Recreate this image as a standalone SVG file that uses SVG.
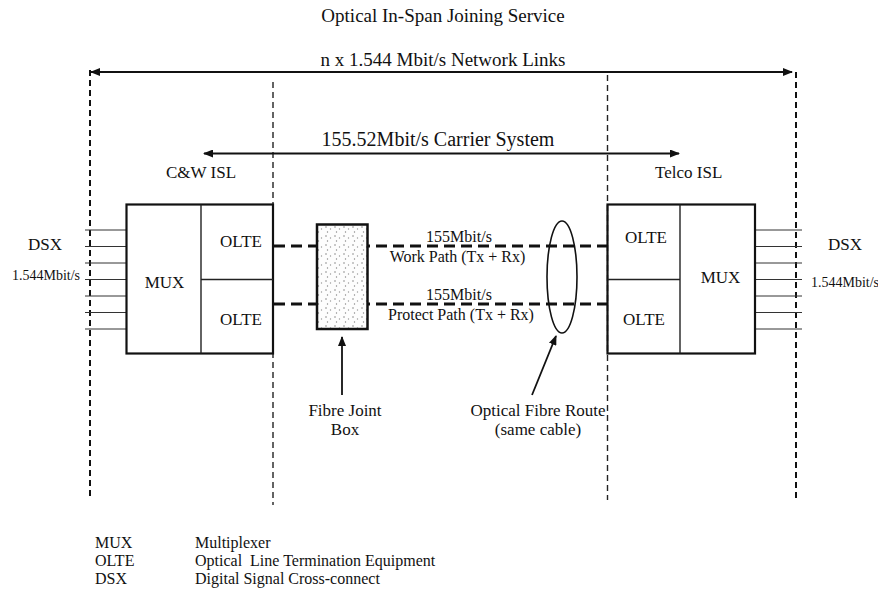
<svg xmlns="http://www.w3.org/2000/svg" width="878" height="594" viewBox="0 0 878 594" font-family="'Liberation Serif','Times New Roman',serif">
<defs>
<style>
text{font-family:"Liberation Serif","Times New Roman",serif;fill:#111}
.t19{font-size:19px}
.t17{font-size:17px}
.t16{font-size:16px}
.t14{font-size:14px}
.box{fill:none;stroke:#111;stroke-width:2.2}
.div{stroke:#222;stroke-width:1.4;fill:none}
.vd1{stroke:#111;stroke-width:2;stroke-dasharray:6 4;fill:none}
.vd2{stroke:#222;stroke-width:1.4;stroke-dasharray:6 4;fill:none}
.path{stroke:#111;stroke-width:3;stroke-dasharray:11 6;fill:none}
.in{stroke:#333;stroke-width:1;fill:none}
.arr{stroke:#111;stroke-width:1.8;fill:none}
</style>
<marker id="ah" viewBox="0 0 10 8" refX="9" refY="4" markerWidth="10" markerHeight="8" markerUnits="userSpaceOnUse" orient="auto-start-reverse">
<path d="M0,0 L10,4 L0,8 z" fill="#111"/>
</marker>
<pattern id="stip" width="9" height="9" patternUnits="userSpaceOnUse">
<rect width="9" height="9" fill="#fdfdfd"/>
<circle cx="2" cy="2" r="0.8" fill="#888"/>
<circle cx="6.5" cy="4" r="0.7" fill="#999"/>
<circle cx="3.5" cy="7" r="0.7" fill="#888"/>
</pattern>
</defs>
<rect width="878" height="594" fill="#fff"/>

<text id="title" class="t19" x="443" y="22" text-anchor="middle">Optical In-Span Joining Service</text>

<g id="boundaries">
<line class="vd1" x1="90" y1="70" x2="90" y2="498"/>
<line class="vd1" x1="796" y1="72" x2="796" y2="498"/>
<line class="vd2" x1="273" y1="82" x2="273" y2="505"/>
<line class="vd2" x1="607.5" y1="75" x2="607.5" y2="500"/>
</g>

<g id="connectors">
<line class="arr" x1="91" y1="72" x2="792" y2="72" marker-start="url(#ah)" marker-end="url(#ah)"/>
<line class="arr" x1="204" y1="153.5" x2="679" y2="153.5" stroke-width="1.5" marker-start="url(#ah)" marker-end="url(#ah)"/>
<line class="path" x1="274" y1="246" x2="607" y2="246"/>
<line class="path" x1="274" y1="304" x2="607" y2="304"/>
<line class="arr" x1="342" y1="395" x2="342" y2="337" marker-end="url(#ah)"/>
<line class="arr" x1="532" y1="395" x2="556" y2="336" marker-end="url(#ah)"/>
<g id="dsx-left-lines">
<line class="in" x1="85" y1="230" x2="126" y2="230"/>
<line class="in" x1="85" y1="246.5" x2="126" y2="246.5"/>
<line class="in" x1="85" y1="263" x2="126" y2="263"/>
<line class="in" x1="85" y1="279.5" x2="126" y2="279.5"/>
<line class="in" x1="85" y1="296" x2="126" y2="296"/>
<line class="in" x1="85" y1="312.5" x2="126" y2="312.5"/>
<line class="in" x1="85" y1="329" x2="126" y2="329"/>
</g>
<g id="dsx-right-lines">
<line class="in" x1="755" y1="230" x2="802" y2="230"/>
<line class="in" x1="755" y1="246.5" x2="802" y2="246.5"/>
<line class="in" x1="755" y1="263" x2="802" y2="263"/>
<line class="in" x1="755" y1="279.5" x2="802" y2="279.5"/>
<line class="in" x1="755" y1="296" x2="802" y2="296"/>
<line class="in" x1="755" y1="312.5" x2="802" y2="312.5"/>
<line class="in" x1="755" y1="329" x2="802" y2="329"/>
</g>
</g>

<text id="lbl-links" class="t19" x="443" y="66" text-anchor="middle">n x 1.544 Mbit/s Network Links</text>
<text id="lbl-carrier" x="438" y="146" text-anchor="middle" font-size="20">155.52Mbit/s Carrier System</text>
<text id="lbl-cw" class="t17" x="166" y="178">C&amp;W ISL</text>
<text id="lbl-telco" class="t17" x="655" y="178">Telco ISL</text>

<g id="dsx-left">
<text class="t17" x="28" y="250">DSX</text>
<text class="t14" x="12" y="280">1.544Mbit/s</text>
</g>
<g id="dsx-right">
<text class="t17" x="828" y="250">DSX</text>
<text class="t14" x="811" y="287">1.544Mbit/s</text>
</g>

<g id="cw-isl">
<rect class="box" x="126.5" y="204.5" width="146.5" height="149"/>
<line class="div" x1="201" y1="204.5" x2="201" y2="353.5"/>
<line class="div" x1="201" y1="279.5" x2="273" y2="279.5"/>
<text class="t17" x="164.5" y="287.5" text-anchor="middle">MUX</text>
<text class="t17" x="241" y="246.5" text-anchor="middle">OLTE</text>
<text class="t17" x="241" y="325" text-anchor="middle">OLTE</text>
</g>

<g id="telco-isl">
<rect class="box" x="607.5" y="204.5" width="147.5" height="149"/>
<line class="div" x1="680" y1="204.5" x2="680" y2="353.5"/>
<line class="div" x1="607.5" y1="279.5" x2="680" y2="279.5"/>
<text class="t17" x="720.5" y="283" text-anchor="middle">MUX</text>
<text class="t17" x="646" y="243" text-anchor="middle">OLTE</text>
<text class="t17" x="644" y="325" text-anchor="middle">OLTE</text>
</g>

<g id="fibre-joint-box">
<rect x="317" y="224.5" width="50.5" height="104.5" fill="url(#stip)" stroke="#111" stroke-width="2.5"/>
</g>
<g id="fibre-route">
<ellipse cx="562" cy="277" rx="15" ry="56" fill="none" stroke="#111" stroke-width="1.6"/>
</g>

<g id="path-labels">
<text class="t16" x="459" y="242" text-anchor="middle">155Mbit/s</text>
<text class="t16" x="457.5" y="262" text-anchor="middle">Work Path (Tx + Rx)</text>
<text class="t16" x="459" y="300" text-anchor="middle">155Mbit/s</text>
<text class="t16" x="461" y="319.5" text-anchor="middle">Protect Path (Tx + Rx)</text>
</g>

<g id="callouts">
<text class="t17" x="345" y="416" text-anchor="middle">Fibre Joint</text>
<text class="t17" x="345" y="435" text-anchor="middle">Box</text>
<text class="t17" x="538" y="416" text-anchor="middle">Optical Fibre Route</text>
<text class="t17" x="538" y="435" text-anchor="middle">(same cable)</text>
</g>

<g id="legend">
<text class="t16" x="95" y="548">MUX</text>
<text class="t16" x="195" y="548">Multiplexer</text>
<text class="t16" x="95" y="566">OLTE</text>
<text class="t16" x="195" y="566" xml:space="preserve">Optical  Line Termination Equipment</text>
<text class="t16" x="95" y="584">DSX</text>
<text class="t16" x="195" y="584">Digital Signal Cross-connect</text>
</g>
</svg>
